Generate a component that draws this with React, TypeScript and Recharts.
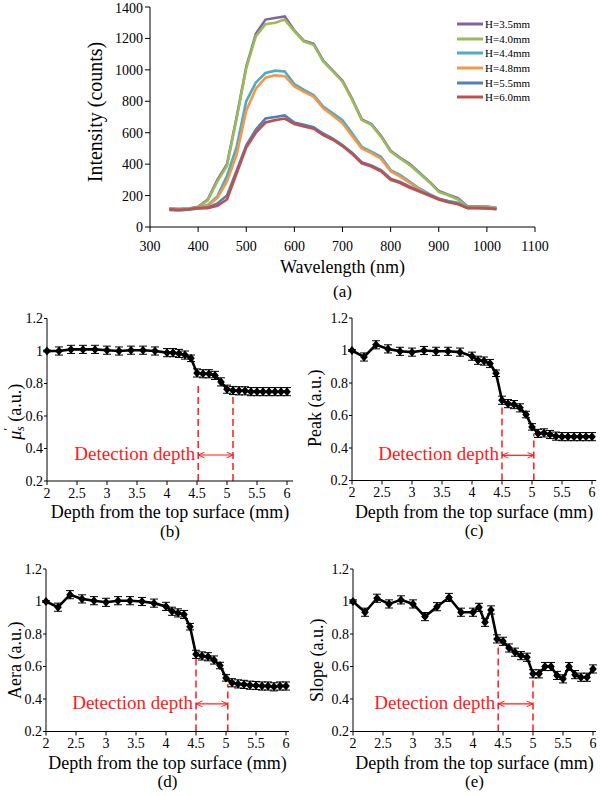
import React from 'react';
import { LineChart, Line, XAxis, YAxis, Legend, Label, ErrorBar, ReferenceLine, ReferenceDot } from 'recharts';

const FONT = '"Liberation Serif", "Times New Roman", serif';
const RED = '#ff1a1a';

// ---- (a) spectra ----
const wavelengths = [340, 360, 380, 400, 420, 440, 460, 480, 500, 520, 540, 560, 580, 600, 620, 640, 660, 680, 700, 720, 740, 760, 780, 800, 820, 840, 860, 880, 900, 920, 940, 960, 980, 1000, 1020];
const h35 = [118, 115, 118, 128, 175, 300, 400, 700, 1020, 1230, 1320, 1330, 1340, 1250, 1185, 1165, 1058, 995, 930, 815, 685, 655, 580, 485, 440, 400, 345, 290, 230, 205, 183, 130, 132, 130, 122];
const h40 = [115, 112, 115, 125, 170, 290, 390, 690, 1010, 1215, 1290, 1300, 1320, 1245, 1180, 1160, 1053, 990, 925, 810, 680, 650, 575, 480, 436, 394, 340, 287, 223, 202, 175, 128, 130, 128, 120];
const h44 = [116, 114, 117, 124, 140, 195, 325, 510, 800, 920, 980, 995, 990, 910, 872, 840, 766, 723, 680, 596, 510, 480, 447, 362, 330, 287, 245, 210, 180, 165, 155, 125, 125, 122, 118];
const h48 = [114, 112, 115, 122, 135, 185, 290, 460, 740, 880, 950, 965, 960, 895, 860, 830, 755, 710, 660, 580, 500, 470, 435, 355, 320, 280, 240, 205, 175, 160, 150, 122, 125, 122, 118];
const h55 = [108, 106, 110, 118, 125, 150, 200, 360, 520, 620, 690, 700, 710, 665, 650, 635, 595, 562, 522, 472, 412, 392, 362, 308, 286, 256, 230, 205, 180, 162, 150, 122, 122, 120, 115];
const h60 = [112, 110, 113, 120, 120, 135, 175, 340, 505, 600, 665, 680, 690, 655, 640, 625, 585, 555, 515, 465, 405, 385, 355, 300, 280, 250, 225, 200, 175, 158, 145, 120, 120, 118, 113];
const seriesNames = ['H=3.5mm', 'H=4.0mm', 'H=4.4mm', 'H=4.8mm', 'H=5.5mm', 'H=6.0mm'];
const seriesColors = ['#8064a2', '#9bbb59', '#4bacc6', '#f79646', '#4f81bd', '#c0504d'];
const wlTicks = [300, 400, 500, 600, 700, 800, 900, 1000, 1100];
const intensityTicks = [0, 200, 400, 600, 800, 1000, 1200, 1400];

const spectrumData = wavelengths.map((wl, i) => ({
  wl,
  s0: h35[i],
  s1: h40[i],
  s2: h44[i],
  s3: h48[i],
  s4: h55[i],
  s5: h60[i],
}));

// ---- (b)-(e) depth scans ----
const depths = [2, 2.2, 2.4, 2.6, 2.8, 3, 3.2, 3.4, 3.6, 3.8, 4, 4.1, 4.2, 4.3, 4.4, 4.5, 4.6, 4.7, 4.8, 4.9, 5, 5.1, 5.2, 5.3, 5.4, 5.5, 5.6, 5.7, 5.8, 5.9, 6];
const muValues = [1.0, 1.0, 1.01, 1.01, 1.01, 1.005, 1.0, 1.005, 1.005, 1.0, 0.99, 0.99, 0.985, 0.975, 0.955, 0.865, 0.86, 0.86, 0.85, 0.81, 0.765, 0.757, 0.755, 0.755, 0.75, 0.75, 0.75, 0.75, 0.75, 0.75, 0.75];
const muErrors = [0.005, 0.025, 0.025, 0.025, 0.025, 0.025, 0.025, 0.025, 0.025, 0.025, 0.025, 0.025, 0.025, 0.025, 0.02, 0.025, 0.025, 0.025, 0.025, 0.025, 0.025, 0.025, 0.025, 0.025, 0.025, 0.025, 0.025, 0.025, 0.025, 0.025, 0.025];
const peakValues = [1.0, 0.96, 1.035, 1.01, 0.995, 0.99, 1.0, 0.995, 0.995, 0.99, 0.965, 0.94, 0.935, 0.92, 0.86, 0.694, 0.673, 0.667, 0.647, 0.606, 0.53, 0.49, 0.493, 0.483, 0.473, 0.47, 0.47, 0.47, 0.47, 0.47, 0.47];
const peakErrors = [0.005, 0.025, 0.025, 0.025, 0.025, 0.025, 0.025, 0.025, 0.025, 0.025, 0.025, 0.025, 0.025, 0.025, 0.02, 0.025, 0.025, 0.025, 0.025, 0.02, 0.02, 0.025, 0.025, 0.025, 0.025, 0.025, 0.025, 0.025, 0.025, 0.025, 0.025];
const areaValues = [1.0, 0.965, 1.042, 1.016, 1.005, 0.995, 1.005, 1.005, 1.0, 0.99, 0.97, 0.94, 0.93, 0.92, 0.845, 0.675, 0.665, 0.66, 0.64, 0.606, 0.53, 0.5, 0.493, 0.49, 0.485, 0.483, 0.48, 0.48, 0.475, 0.48, 0.48];
const areaErrors = [0.005, 0.025, 0.025, 0.025, 0.025, 0.025, 0.025, 0.025, 0.025, 0.025, 0.025, 0.025, 0.025, 0.025, 0.02, 0.025, 0.025, 0.025, 0.025, 0.02, 0.02, 0.025, 0.025, 0.025, 0.025, 0.025, 0.025, 0.025, 0.025, 0.025, 0.025];
const slopeValues = [1.0, 0.934, 1.02, 0.985, 1.01, 0.985, 0.907, 0.968, 1.025, 0.934, 0.934, 0.964, 0.872, 0.948, 0.77, 0.755, 0.714, 0.688, 0.667, 0.657, 0.555, 0.555, 0.6, 0.6, 0.545, 0.524, 0.6, 0.55, 0.534, 0.534, 0.585];
const slopeErrors = [0.01, 0.025, 0.025, 0.025, 0.025, 0.025, 0.025, 0.025, 0.025, 0.025, 0.025, 0.025, 0.025, 0.025, 0.025, 0.025, 0.025, 0.025, 0.025, 0.025, 0.025, 0.025, 0.025, 0.025, 0.025, 0.025, 0.025, 0.025, 0.025, 0.025, 0.025];
const depthTicks = [2, 2.5, 3, 3.5, 4, 4.5, 5, 5.5, 6];
const ratioTicks = [0.2, 0.4, 0.6, 0.8, 1, 1.2];

// detection depth markers: [start x, end x], dashed line tops, arrow height
const muDetect = [4.52, 5.1];
const muDetectTops = [0.81, 0.74];
const muArrowY = 0.36;
const peakDetect = [4.5, 5.03];
const peakDetectTops = [0.67, 0.49];
const peakArrowY = 0.355;
const areaDetect = [4.5, 5.03];
const areaDetectTops = [0.657, 0.493];
const areaArrowY = 0.37;
const slopeDetect = [4.42, 5.0];
const slopeDetectTops = [0.743, 0.534];
const slopeArrowY = 0.37;

const tickStyle = { fill: '#000', fontSize: 14, fontFamily: FONT };

const xTitle = (text: string, dy: number, size = 18) => (props: any) => {
  const vb = props.viewBox || { x: 0, y: 0, width: 0, height: 0 };
  return (
    <text x={vb.x + vb.width / 2} y={vb.y + dy} textAnchor="middle" dominantBaseline="central" fontFamily={FONT} fontSize={size} fill="#000">
      {text}
    </text>
  );
};

const yTitle = (content: React.ReactNode, dx: number, dy: number, size = 18) => (props: any) => {
  const vb = props.viewBox || { x: 0, y: 0, width: 0, height: 0 };
  const cx = vb.x + dx;
  const cy = vb.y + vb.height / 2 + dy;
  return (
    <text x={cx} y={cy} transform={`rotate(-90, ${cx}, ${cy})`} textAnchor="middle" dominantBaseline="central" fontFamily={FONT} fontSize={size} fill="#000">
      {content}
    </text>
  );
};

const Diamond = (p: any) => {
  if (p.cx == null || p.cy == null) return <g key={p.index} />;
  return (
    <path
      key={p.index}
      d={`M${p.cx},${p.cy - 4.5} L${p.cx + 3.8},${p.cy} L${p.cx},${p.cy + 4.5} L${p.cx - 3.8},${p.cy} Z`}
      fill="#000"
    />
  );
};

const ArrowShape = (p: any) => (
  <line x1={p.x1} y1={p.y1} x2={p.x2} y2={p.y2} stroke={RED} strokeWidth={1.2} markerStart="url(#openArrow)" markerEnd="url(#openArrow)" />
);

const renderLegend = (props: any) => (
  <div style={{ fontFamily: FONT, fontSize: 11, color: '#000' }}>
    {(props.payload || []).map((e: any) => (
      <div key={e.value} style={{ display: 'flex', alignItems: 'center', height: 14.6, whiteSpace: 'nowrap' }}>
        <svg width={26} height={4} style={{ marginRight: 2 }}>
          <line x1={0} y1={2} x2={26} y2={2} stroke={e.color} strokeWidth={3} />
        </svg>
        <span>{e.value}</span>
      </div>
    ))}
  </div>
);

const SpectrumChart = () => (
  <LineChart width={600} height={300} data={spectrumData} margin={{ top: 7, right: 65, bottom: 0, left: 78 }}>
    <XAxis
      dataKey="wl"
      type="number"
      domain={[300, 1100]}
      ticks={wlTicks}
      height={73}
      tick={tickStyle}
      tickSize={5}
      tickMargin={9}
      axisLine={{ stroke: '#000' }}
      tickLine={{ stroke: '#000' }}
    >
      <Label content={xTitle('Wavelength (nm)', 40)} />
      <Label content={xTitle('(a)', 64, 17)} />
    </XAxis>
    <YAxis
      type="number"
      domain={[0, 1400]}
      ticks={intensityTicks}
      width={72}
      tick={tickStyle}
      tickSize={5}
      tickMargin={2}
      axisLine={{ stroke: '#000' }}
      tickLine={{ stroke: '#000' }}
    >
      <Label content={yTitle('Intensity (counts)', 17, -5, 20)} />
    </YAxis>
    <Legend
      layout="vertical"
      align="center"
      verticalAlign="middle"
      content={renderLegend}
      wrapperStyle={{ top: 17, left: 457, width: 110 }}
    />
    {seriesNames.map((name, i) => (
      <Line
        key={name}
        type="linear"
        dataKey={`s${i}`}
        name={name}
        stroke={seriesColors[i]}
        strokeWidth={2.6}
        dot={false}
        isAnimationActive={false}
      />
    ))}
  </LineChart>
);

type PanelProps = {
  left: number;
  top: number;
  axisWidth: number;
  plotTop: number;
  xMax: number;
  values: number[];
  errors: number[];
  detect: number[];
  detectTops: number[];
  arrowY: number;
  title: React.ReactNode;
  titleDx: number;
  titleDy: number;
  caption: string;
};

const DepthPanel = (p: PanelProps) => {
  const data = depths.map((d, i) => ({ d, v: p.values[i], e: p.errors[i] }));
  const plotWidth = 60 * (p.xMax - 2);
  const height = 246;
  const plotHeight = 162.5;
  return (
    <div style={{ position: 'absolute', left: p.left, top: p.top }}>
      <LineChart
        width={300}
        height={height}
        data={data}
        margin={{ top: p.plotTop, right: 300 - p.axisWidth - plotWidth, bottom: 0, left: 0 }}
      >
        <XAxis
          dataKey="d"
          type="number"
          domain={[2, p.xMax]}
          ticks={depthTicks}
          height={height - p.plotTop - plotHeight}
          tick={tickStyle}
          tickSize={4}
          tickMargin={3}
          axisLine={{ stroke: '#000' }}
          tickLine={{ stroke: '#000' }}
        >
          <Label content={xTitle('Depth from the top surface (mm)', 31)} />
          <Label content={xTitle(p.caption, 50, 17)} />
        </XAxis>
        <YAxis
          type="number"
          domain={[0.2, 1.2]}
          ticks={ratioTicks}
          width={p.axisWidth}
          tick={tickStyle}
          tickSize={3}
          tickMargin={1}
          axisLine={{ stroke: '#000' }}
          tickLine={{ stroke: '#000' }}
        >
          <Label content={yTitle(p.title, p.titleDx, p.titleDy)} />
        </YAxis>
        {p.detect.map((x, i) => (
          <ReferenceLine
            key={`dl${i}`}
            segment={[{ x, y: 0.2 }, { x, y: p.detectTops[i] }]}
            stroke={RED}
            strokeWidth={1.5}
            strokeDasharray="7 4"
          />
        ))}
        <ReferenceLine
          segment={[{ x: p.detect[0], y: p.arrowY }, { x: p.detect[1], y: p.arrowY }]}
          shape={ArrowShape}
        />
        <ReferenceDot
          x={p.detect[0]}
          y={p.arrowY + 0.01}
          r={0}
          fill="none"
          stroke="none"
          label={{ value: 'Detection depth', position: 'left', offset: 3, fill: RED, fontSize: 19, fontFamily: FONT }}
        />
        <Line
          type="linear"
          dataKey="v"
          stroke="#000"
          strokeWidth={2.6}
          dot={Diamond}
          activeDot={false}
          isAnimationActive={false}
        >
          <ErrorBar dataKey="e" direction="y" width={4} strokeWidth={1} stroke="#000" />
        </Line>
      </LineChart>
    </div>
  );
};

const muTitle = (
  <>
    <tspan fontStyle="italic">μ</tspan>
    <tspan fontSize={12} dy={-7}>′</tspan>
    <tspan fontSize={12} fontStyle="italic" dx={-3} dy={12}>s</tspan>
    <tspan dy={-5}> (a.u.)</tspan>
  </>
);

export default function App() {
  return (
    <div style={{ position: 'absolute', left: 0, top: 0, width: 600, height: 796, background: '#fff' }}>
      <svg width={0} height={0} style={{ position: 'absolute' }}>
        <defs>
          <marker id="openArrow" viewBox="0 0 10 10" refX={10} refY={5} markerWidth={7} markerHeight={7} orient="auto-start-reverse" markerUnits="userSpaceOnUse">
            <path d="M1,1 L10,5 L1,9" fill="none" stroke={RED} strokeWidth={1.4} />
          </marker>
        </defs>
      </svg>
      <div style={{ position: 'absolute', left: 0, top: 0 }}>
        <SpectrumChart />
      </div>
      <DepthPanel left={0} top={300} axisWidth={47} plotTop={18.5} xMax={6.1} values={muValues} errors={muErrors}
        detect={muDetect} detectTops={muDetectTops} arrowY={muArrowY} title={muTitle} titleDx={15} titleDy={12} caption="(b)" />
      <DepthPanel left={300} top={300} axisWidth={52} plotTop={18} xMax={6.07} values={peakValues} errors={peakErrors}
        detect={peakDetect} detectTops={peakDetectTops} arrowY={peakArrowY} title="Peak (a.u.)" titleDx={15} titleDy={9} caption="(c)" />
      <DepthPanel left={0} top={550} axisWidth={46} plotTop={19} xMax={6.05} values={areaValues} errors={areaErrors}
        detect={areaDetect} detectTops={areaDetectTops} arrowY={areaArrowY} title="Aera (a.u.)" titleDx={15} titleDy={10} caption="(d)" />
      <DepthPanel left={300} top={550} axisWidth={53} plotTop={19} xMax={6.05} values={slopeValues} errors={slopeErrors}
        detect={slopeDetect} detectTops={slopeDetectTops} arrowY={slopeArrowY} title="Slope (a.u.)" titleDx={17} titleDy={10} caption="(e)" />
    </div>
  );
}
